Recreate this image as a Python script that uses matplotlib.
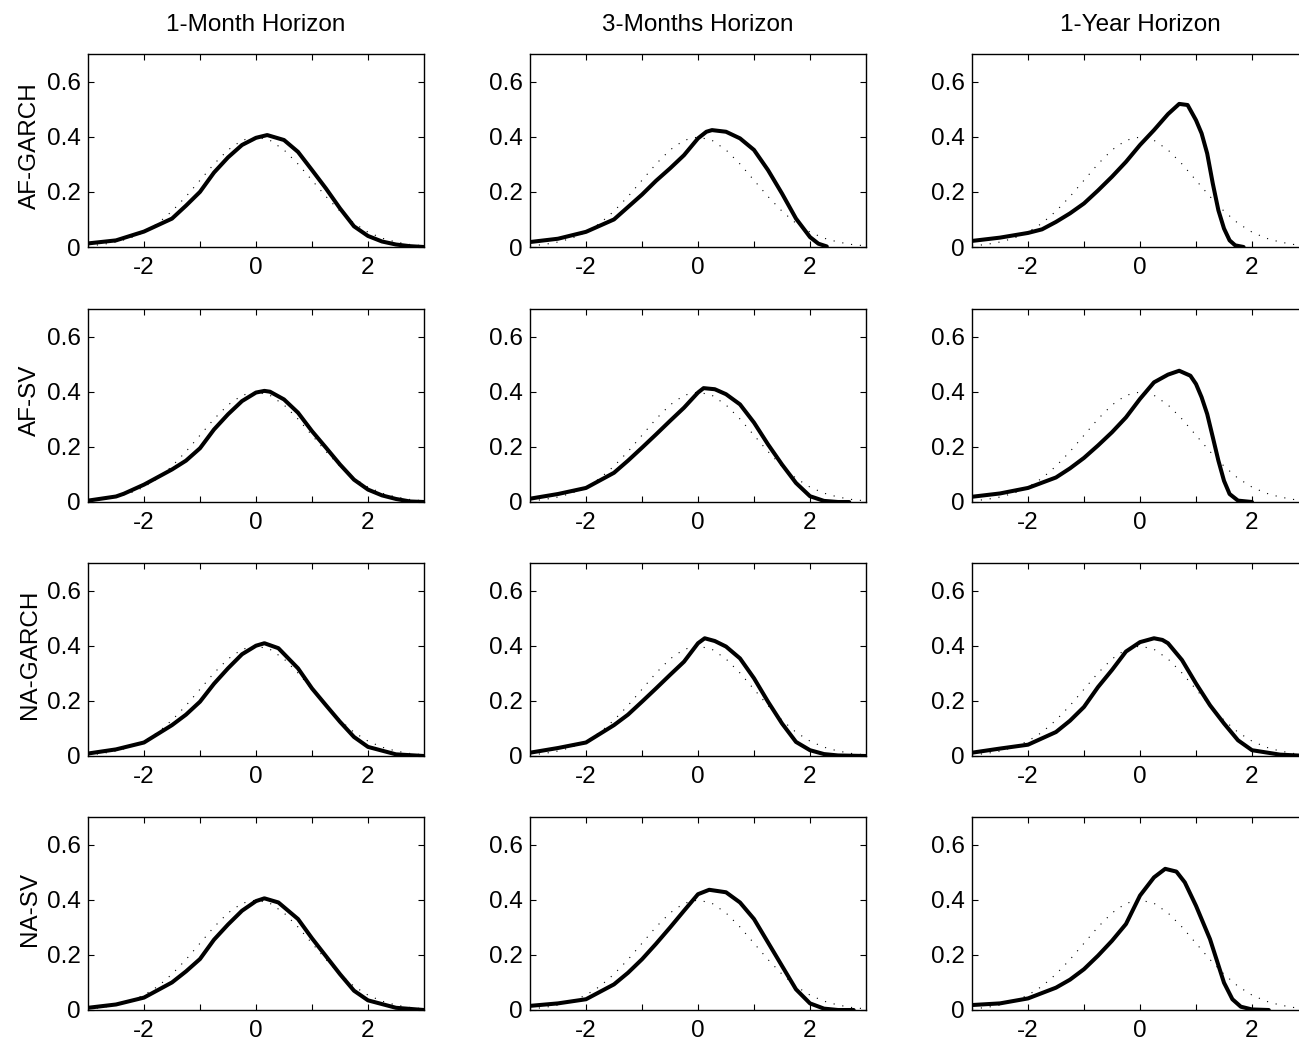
import numpy as np
import matplotlib
matplotlib.use('Agg')
import matplotlib.pyplot as plt

plt.rcParams['font.family'] = ['Liberation Sans', 'DejaVu Sans']
plt.rcParams['axes.unicode_minus'] = False

horizons = ['1-Month Horizon', '3-Months Horizon', '1-Year Horizon']
models = ['AF-GARCH', 'AF-SV', 'NA-GARCH', 'NA-SV']

# reference density (dotted)
ref_x = [-3, -2.75, -2.5, -2.25, -2, -1.75, -1.5, -1.25, -1, -0.75, -0.5, -0.25, 0,
         0.25, 0.5, 0.75, 1, 1.25, 1.5, 1.75, 2, 2.25, 2.5, 2.75, 3]
ref_y = [0.004, 0.009, 0.018, 0.032, 0.054, 0.086, 0.130, 0.183, 0.242, 0.301, 0.352, 0.387, 0.399,
         0.387, 0.352, 0.301, 0.242, 0.183, 0.130, 0.086, 0.054, 0.032, 0.018, 0.009, 0.004]

# estimated densities (solid), one x/y list per panel
afg_1m_x = [-3, -2.5, -2, -1.5, -1.25, -1, -0.75, -0.5, -0.25, 0, 0.2, 0.5, 0.75, 1, 1.25, 1.5, 1.75, 2, 2.25, 2.5, 2.75, 3]
afg_1m_y = [0.013, 0.024, 0.056, 0.103, 0.15, 0.2, 0.27, 0.325, 0.37, 0.396, 0.406, 0.388, 0.345, 0.279, 0.212, 0.14, 0.075, 0.04, 0.02, 0.009, 0.003, 0.0]
afg_3m_x = [-3, -2.5, -2, -1.5, -1.25, -1, -0.75, -0.5, -0.25, 0, 0.15, 0.25, 0.5, 0.75, 1, 1.25, 1.5, 1.75, 2, 2.15, 2.3]
afg_3m_y = [0.018, 0.03, 0.055, 0.1, 0.145, 0.19, 0.24, 0.285, 0.333, 0.394, 0.418, 0.424, 0.418, 0.394, 0.352, 0.279, 0.194, 0.103, 0.036, 0.012, 0.002]
afg_1y_x = [-3, -2.5, -2, -1.75, -1.5, -1.25, -1, -0.75, -0.5, -0.25, 0, 0.25, 0.5, 0.7, 0.85, 1, 1.1, 1.2, 1.3, 1.4, 1.5, 1.6, 1.7, 1.85]
afg_1y_y = [0.022, 0.034, 0.051, 0.064, 0.091, 0.122, 0.158, 0.205, 0.255, 0.309, 0.37, 0.424, 0.482, 0.519, 0.515, 0.46, 0.412, 0.339, 0.23, 0.133, 0.067, 0.024, 0.006, 0.0]

afs_1m_x = [-3, -2.5, -2.36, -2, -1.5, -1.25, -1, -0.75, -0.5, -0.25, 0, 0.15, 0.25, 0.5, 0.75, 1, 1.25, 1.5, 1.75, 2, 2.25, 2.5, 2.75, 3]
afs_1m_y = [0.005, 0.02, 0.03, 0.063, 0.118, 0.15, 0.195, 0.263, 0.318, 0.366, 0.397, 0.403, 0.4, 0.372, 0.324, 0.257, 0.197, 0.136, 0.081, 0.045, 0.024, 0.011, 0.002, 0.0]
afs_3m_x = [-3, -2.5, -2, -1.5, -1.25, -1, -0.75, -0.5, -0.25, 0, 0.1, 0.3, 0.5, 0.75, 1, 1.25, 1.5, 1.75, 2, 2.25, 2.5, 2.7]
afs_3m_y = [0.012, 0.029, 0.051, 0.106, 0.15, 0.197, 0.245, 0.294, 0.342, 0.397, 0.413, 0.409, 0.391, 0.354, 0.288, 0.209, 0.136, 0.069, 0.021, 0.004, 0.0, 0.0]
afs_1y_x = [-3, -2.5, -2, -1.5, -1.25, -1, -0.75, -0.5, -0.25, 0, 0.25, 0.5, 0.7, 0.9, 1, 1.1, 1.2, 1.3, 1.4, 1.5, 1.6, 1.75, 2.0]
afs_1y_y = [0.019, 0.031, 0.051, 0.089, 0.122, 0.16, 0.205, 0.253, 0.307, 0.374, 0.434, 0.462, 0.476, 0.458, 0.428, 0.38, 0.319, 0.235, 0.15, 0.077, 0.029, 0.005, 0.0]

nag_1m_x = [-3, -2.5, -2, -1.5, -1.25, -1, -0.75, -0.5, -0.25, 0, 0.15, 0.4, 0.75, 1, 1.25, 1.5, 1.75, 2, 2.5, 3]
nag_1m_y = [0.009, 0.024, 0.049, 0.112, 0.15, 0.197, 0.262, 0.318, 0.369, 0.4, 0.409, 0.391, 0.318, 0.245, 0.184, 0.124, 0.069, 0.033, 0.006, 0.0]
nag_3m_x = [-3, -2.5, -2, -1.5, -1.25, -1, -0.75, -0.5, -0.25, 0, 0.12, 0.3, 0.5, 0.75, 1, 1.25, 1.5, 1.75, 2, 2.25, 2.5, 3]
nag_3m_y = [0.012, 0.029, 0.049, 0.112, 0.15, 0.197, 0.245, 0.294, 0.342, 0.409, 0.427, 0.417, 0.397, 0.354, 0.282, 0.197, 0.118, 0.051, 0.021, 0.007, 0.002, 0.0]
nag_1y_x = [-3, -2.5, -2, -1.5, -1.25, -1, -0.75, -0.5, -0.25, 0, 0.25, 0.4, 0.5, 0.75, 1, 1.25, 1.5, 1.75, 2, 2.5, 3]
nag_1y_y = [0.012, 0.027, 0.041, 0.087, 0.128, 0.178, 0.25, 0.312, 0.379, 0.413, 0.427, 0.421, 0.409, 0.348, 0.263, 0.184, 0.118, 0.057, 0.021, 0.005, 0.0]

nas_1m_x = [-3, -2.5, -2, -1.5, -1.25, -1, -0.75, -0.5, -0.25, 0, 0.15, 0.4, 0.75, 1, 1.25, 1.5, 1.75, 2, 2.5, 3]
nas_1m_y = [0.008, 0.02, 0.045, 0.1, 0.14, 0.185, 0.255, 0.31, 0.36, 0.395, 0.405, 0.39, 0.33, 0.26, 0.195, 0.13, 0.07, 0.035, 0.008, 0.0]
nas_3m_x = [-3, -2.5, -2, -1.5, -1.25, -1, -0.75, -0.5, -0.25, 0, 0.2, 0.5, 0.75, 1, 1.25, 1.5, 1.75, 2, 2.25, 2.5, 2.78]
nas_3m_y = [0.015, 0.024, 0.039, 0.093, 0.135, 0.184, 0.24, 0.299, 0.36, 0.42, 0.436, 0.427, 0.39, 0.33, 0.245, 0.16, 0.075, 0.024, 0.005, 0.0, 0.0]
nas_1y_x = [-3, -2.5, -2, -1.5, -1.25, -1, -0.75, -0.5, -0.25, 0, 0.25, 0.45, 0.65, 0.8, 1, 1.25, 1.5, 1.65, 1.8, 2, 2.3]
nas_1y_y = [0.018, 0.024, 0.042, 0.081, 0.11, 0.148, 0.197, 0.251, 0.312, 0.415, 0.481, 0.512, 0.502, 0.463, 0.378, 0.257, 0.099, 0.039, 0.012, 0.002, 0.0]

panels = [
    [(afg_1m_x, afg_1m_y), (afg_3m_x, afg_3m_y), (afg_1y_x, afg_1y_y)],
    [(afs_1m_x, afs_1m_y), (afs_3m_x, afs_3m_y), (afs_1y_x, afs_1y_y)],
    [(nag_1m_x, nag_1m_y), (nag_3m_x, nag_3m_y), (nag_1y_x, nag_1y_y)],
    [(nas_1m_x, nas_1m_y), (nas_3m_x, nas_3m_y), (nas_1y_x, nas_1y_y)],
]

W, H = 1299, 1046
fig = plt.figure(figsize=(W / 100, H / 100), dpi=100)

col_left = [88, 530, 972]
row_top = [54, 309, 563, 817]
aw, ah = 336, 193
fs = 17.5

for i, m in enumerate(models):
    for j, h in enumerate(horizons):
        ax = fig.add_axes([col_left[j] / W, 1 - (row_top[i] + ah) / H, aw / W, ah / H])
        px, py = panels[i][j]
        ax.plot(ref_x, ref_y, color='k', lw=0.8, linestyle=(0, (1, 7)))
        ax.plot(px, py, color='k', lw=2.9, solid_joinstyle='round', solid_capstyle='round')
        ax.set_xlim(-3, 3)
        ax.set_ylim(0, 0.7)
        ax.set_xticks([-2, -1, 0, 1, 2])
        ax.set_xticklabels(['-2', '', '0', '', '2'])
        ax.set_yticks([0, 0.2, 0.4, 0.6])
        ax.set_yticklabels(['0', '0.2', '0.4', '0.6'])
        ax.tick_params(direction='in', top=True, right=True, length=4, width=0.8,
                       labelsize=fs)
        ax.tick_params(axis='x', pad=7)
        ax.tick_params(axis='y', pad=5)
        for s in ax.spines.values():
            s.set_linewidth(1.0)
        if i == 0:
            fig.text((col_left[j] + aw / 2) / W, 1 - 25 / H, h, ha='center', va='center', fontsize=fs)
    fig.text(30 / W, 1 - (row_top[i] + ah / 2 - 5) / H, m, rotation=90, ha='center', va='center', fontsize=fs)

fig.savefig('out.png', dpi=100)
